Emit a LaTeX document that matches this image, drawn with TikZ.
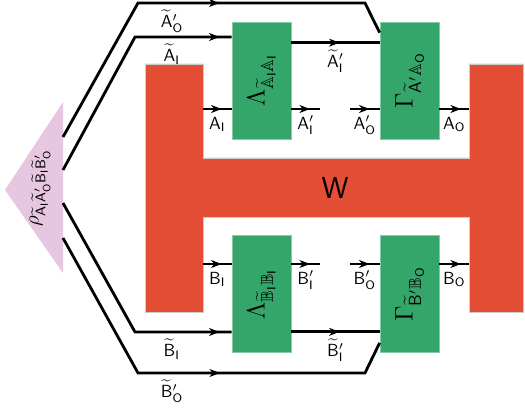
\documentclass[tikz,border=0pt]{standalone}
\usepackage{amsmath, amssymb}
\usetikzlibrary{arrows.meta, decorations.markings, calc}
\definecolor{Wred}{HTML}{E34E35}
\definecolor{Chgreen}{HTML}{35A66A}
\definecolor{Rhopink}{HTML}{E7C6DF}
\tikzset{
    chbox/.style={rectangle, fill=Chgreen, draw=Chgreen!60!white, line width=0.4pt, minimum width=1.18cm, minimum height=2.34cm, inner sep=0pt},
    chlabel/.style={rotate=90, font=\Large},
    wire/.style={line width=1.6pt, color=black},
    arrowat/.style={postaction={decorate, decoration={markings, mark=at position #1 with {\arrow{Stealth[length=6pt, width=4.5pt, inset=1.8pt]}}}}},
    arrowat/.default=-0.2cm,
    lbl/.style={anchor=base, yshift=-11.5pt, inner sep=0pt},
    tlbl/.style={lbl, yshift=-2.5pt},
}

\begin{document}
\begin{tikzpicture}[x=0.02cm, y=-0.02cm]
    \useasboundingbox (0,0) rectangle (525,412);

    % --- stato iniziale ---
    \fill[Rhopink] (5,190) -- (63,102) -- (63,273) -- cycle;
    \node[rotate=90, font=\large] (rho) at (40,188) {$\rho_{\widetilde{\mathsf{A}}_{\mathsf{I}}\widetilde{\mathsf{A}}'_{\mathsf{O}}\widetilde{\mathsf{B}}_{\mathsf{I}}\widetilde{\mathsf{B}}'_{\mathsf{O}}}$};
    \coordinate (rAO) at (63,137);
    \coordinate (rAI) at (63,170);
    \coordinate (rBI) at (63,203);
    \coordinate (rBO) at (63,238);

    % --- processo W ---
    \fill[Wred, draw=gray!40, line width=0.4pt] (145,64) -- (203,64) -- (203,158) -- (469,158) -- (469,64) -- (523,64)
        -- (523,312) -- (469,312) -- (469,217) -- (203,217) -- (203,312) -- (145,312) -- cycle;
    \node[font=\LARGE\sffamily] (W) at (335,188) {W};
    \coordinate (wAI) at (203,109);
    \coordinate (wAO) at (469,109);
    \coordinate (wBI) at (203,264);
    \coordinate (wBO) at (469,264);

    % --- canali ---
    \node[chbox] (lamA) at (261.5,80.5) {};
    \node[chlabel] (lamAtxt) at (lamA) {$\Lambda_{\widetilde{\mathbb{A}}_{\mathsf{I}}\mathbb{A}_{\mathsf{I}}}$};
    \node[chbox] (gamA) at (409.5,80.5) {};
    \node[chlabel] (gamAtxt) at (gamA) {$\Gamma_{\widetilde{\mathsf{A}}'\mathbb{A}_{\mathsf{O}}}$};
    \node[chbox] (lamB) at (261.5,294) {};
    \node[chlabel] (lamBtxt) at (lamB) {$\Lambda_{\widetilde{\mathbb{B}}_{\mathsf{I}}\mathbb{B}_{\mathsf{I}}}$};
    \node[chbox] (gamB) at (409.5,294) {};
    \node[chlabel] (gamBtxt) at (gamB) {$\Gamma_{\widetilde{\mathsf{B}}'\mathbb{B}_{\mathsf{O}}}$};

    \coordinate (aIp) at (320,109);
    \coordinate (aOp) at (350,109);
    \coordinate (bIp) at (320,264);
    \coordinate (bOp) at (350,264);

    % --- fili A ---
    \draw[wire, arrowat=-3.57cm] (rAO) -- (138,3) -- node[tlbl, pos=0.15] {$\widetilde{\mathsf{A}}'_{\mathsf{O}}$} (365,3) -- ([yshift=-0.22cm]gamA.north west);
    \draw[wire, arrowat=-0.24cm] (rAI) -- (135,37) -- node[tlbl, pos=0.38] {$\widetilde{\mathsf{A}}_{\mathsf{I}}$} (lamA.west |- 0,37);
    \draw[wire, arrowat=-0.8cm] ([yshift=-0.42cm]lamA.north east) -- node[tlbl] {$\widetilde{\mathsf{A}}'_{\mathsf{I}}$} ([yshift=-0.42cm]gamA.north west);
    \draw[wire, arrowat] (wAI) -- node[lbl] {$\mathsf{A}_{\mathsf{I}}$} (wAI -| lamA.west);
    \draw[wire, arrowat] (lamA.east |- aIp) -- node[lbl] {$\mathsf{A}'_{\mathsf{I}}$} (aIp);
    \draw[wire, arrowat] (aOp) -- node[lbl] {$\mathsf{A}'_{\mathsf{O}}$} (aOp -| gamA.west);
    \draw[wire, arrowat=-0.16cm] (gamA.east |- wAO) -- node[lbl] {$\mathsf{A}_{\mathsf{O}}$} (wAO);

    % --- fili B ---
    \draw[wire, arrowat=-3.57cm] (rBO) -- (138,373) -- node[tlbl, pos=0.15] {$\widetilde{\mathsf{B}}'_{\mathsf{O}}$} (365,373) -- ([yshift=0.2cm]gamB.south west);
    \draw[wire, arrowat=-0.24cm] (rBI) -- (135,332) -- node[tlbl, pos=0.38] {$\widetilde{\mathsf{B}}_{\mathsf{I}}$} (lamB.west |- 0,332);
    \draw[wire, arrowat=-0.8cm] ([yshift=0.42cm]lamB.south east) -- node[tlbl] {$\widetilde{\mathsf{B}}'_{\mathsf{I}}$} ([yshift=0.42cm]gamB.south west);
    \draw[wire, arrowat] (wBI) -- node[lbl] {$\mathsf{B}_{\mathsf{I}}$} (wBI -| lamB.west);
    \draw[wire, arrowat] (lamB.east |- bIp) -- node[lbl] {$\mathsf{B}'_{\mathsf{I}}$} (bIp);
    \draw[wire, arrowat] (bOp) -- node[lbl] {$\mathsf{B}'_{\mathsf{O}}$} (bOp -| gamB.west);
    \draw[wire, arrowat=-0.16cm] (gamB.east |- wBO) -- node[lbl] {$\mathsf{B}_{\mathsf{O}}$} (wBO);
\end{tikzpicture}
\end{document}
